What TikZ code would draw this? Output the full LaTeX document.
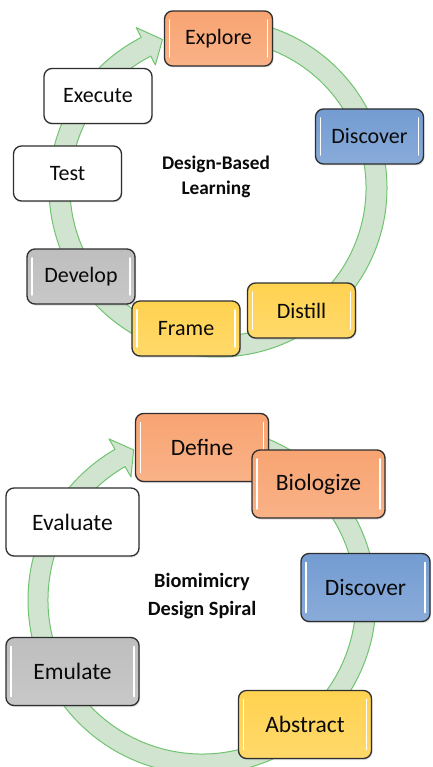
\documentclass[tikz,border=0pt]{standalone}
\usepackage{fontspec}
\setmainfont{Carlito}
\usetikzlibrary{shadows}
\definecolor{ringfill}{RGB}{208,228,208}
\definecolor{ringdraw}{RGB}{112,196,112}
\definecolor{borange}{RGB}{248,164,114}
\definecolor{bblue}{RGB}{116,156,210}
\definecolor{byellow}{RGB}{255,210,80}
\definecolor{bgray}{RGB}{190,190,190}
\definecolor{bordc}{RGB}{46,46,46}
\definecolor{txt}{RGB}{10,10,10}
\tikzset{
  ring/.style={fill=ringfill, draw=ringdraw, line width=1pt, line join=round},
  box/.style={draw=bordc, line width=1.3pt, rounded corners=8pt,
    top color=#1, bottom color=#1!85!white, minimum width=108pt, minimum height=55pt,
    inner sep=0pt, text=txt, font=\fontsize{22}{26}\selectfont,
    drop shadow={opacity=0.25, shadow xshift=1pt, shadow yshift=-1.5pt},
    path picture={
      \draw[white, line width=1.8pt, line cap=round]
        ([xshift=5pt,yshift=-9pt]path picture bounding box.north west) --
        ([xshift=5pt,yshift=9pt]path picture bounding box.south west);
      \draw[white, line width=1.8pt, line cap=round]
        ([xshift=-5pt,yshift=-9pt]path picture bounding box.north east) --
        ([xshift=-5pt,yshift=9pt]path picture bounding box.south east);
    }},
  bigbox/.style={box=#1, minimum width=133pt, minimum height=68pt,
    font=\fontsize{23.5}{28}\selectfont},
  plainbox/.style={draw=bordc, line width=1.3pt, rounded corners=8pt, fill=white,
    minimum width=108pt, minimum height=55pt, inner sep=0pt, text=txt,
    font=\fontsize{22}{26}\selectfont,
    drop shadow={opacity=0.15, shadow xshift=1pt, shadow yshift=-1.5pt}},
  bigplain/.style={plainbox, minimum width=133pt, minimum height=68pt,
    font=\fontsize{23.5}{28}\selectfont},
  center1/.style={align=center, text=txt, font=\bfseries\fontsize{19.3}{25}\selectfont},
  center2/.style={align=center, text=txt, font=\bfseries\fontsize{20.3}{27.5}\selectfont}
}
\begin{document}
\begin{tikzpicture}[x=1pt,y=1pt]
\useasboundingbox (0,0) rectangle (432,-767);
\clip (0,0) rectangle (432,-767);
% ---------- top cycle ----------
\coordinate (c1) at (218,-188);
\draw[ring] ([shift={(95:169)}]c1) arc[start angle=95, end angle=-243, radius=169]
  -- ([shift={(-243:180)}]c1) -- ([shift={(-249.5:158.5)}]c1)
  -- ([shift={(-243:138)}]c1) -- ([shift={(-243:148)}]c1)
  arc[start angle=-243, end angle=95, radius=148] -- cycle;
\node[center1] (dbl) at (216,-177) {Design-Based\\Learning};
\node[box=borange] (explore) at (218.5,-38.5) {Explore};
\node[plainbox] (execute) at (98,-96) {Execute};
\node[box=bblue] (discover1) at (369.5,-136.5) {Discover};
\node[plainbox] (test) at (67.5,-173.5) {Test};
\node[box=bgray] (develop) at (81,-276.5) {Develop};
\node[box=byellow] (distill) at (301.5,-310.5) {Distill};
\node[box=byellow] (frame) at (186,-328.5) {Frame};
% ---------- bottom cycle ----------
\coordinate (c2) at (202,-600);
\draw[ring] ([shift={(90:174)}]c2) arc[start angle=90, end angle=-240, radius=174]
  -- ([shift={(-240:186)}]c2) -- ([shift={(-245.5:165)}]c2)
  -- ([shift={(-240:142)}]c2) -- ([shift={(-240:154)}]c2)
  arc[start angle=-240, end angle=90, radius=154] -- cycle;
\node[center2] (bds) at (202,-596) {Biomimicry\\Design Spiral};
\node[bigbox=borange] (define) at (202,-447.5) {Define};
\node[bigbox=borange] (biologize) at (318.5,-484) {Biologize};
\node[bigplain] (evaluate) at (72.5,-522) {Evaluate};
\node[bigbox=bblue, minimum width=129pt] (discover2) at (365.5,-587.5) {Discover};
\node[bigbox=bgray] (emulate) at (72.5,-671.5) {Emulate};
\node[bigbox=byellow] (abstract) at (305,-724.5) {Abstract};
\end{tikzpicture}
\end{document}
